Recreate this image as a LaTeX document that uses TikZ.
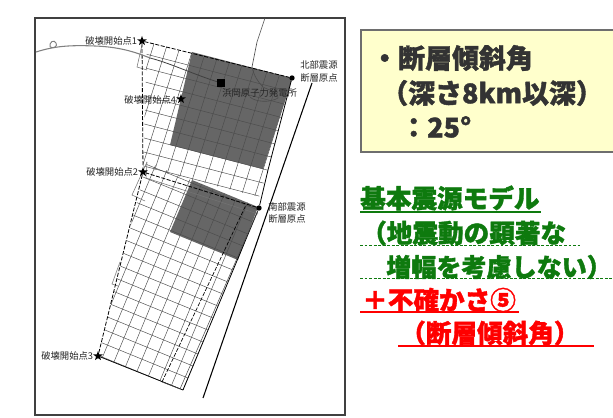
\documentclass[tikz,border=0pt]{standalone}
\usepackage{fontspec}
\setmainfont{Noto Sans CJK JP}[BoldFeatures={FakeBold=1.4}]
\usetikzlibrary{shapes.geometric}
\definecolor{faultgray}{HTML}{666666}
\definecolor{boxfill}{HTML}{FFFFCC}
\definecolor{boxline}{HTML}{6E6E6E}
\definecolor{darktext}{HTML}{333333}
\definecolor{mygreen}{HTML}{0E7A0E}
\definecolor{myred}{HTML}{FF0000}
\tikzset{
  x=0.75pt,y=-0.75pt,
  small/.style={inner sep=0pt,font=\fontsize{7}{8}\selectfont,text=black!85},
  starmark/.style={star,star points=5,star point ratio=2.4,fill=black,draw=none,inner sep=0pt,minimum size=7.5pt},
  dotmark/.style={circle,fill=black,inner sep=0pt,minimum size=4pt},
  gridline/.style={line width=0.35pt,black!70},
  outline/.style={line width=0.4pt,black!55},
  dashline/.style={line width=0.6pt,black,dash pattern=on 3pt off 1.2pt},
  bigbold/.style={anchor=west,inner sep=0pt,font=\fontsize{20.2}{24}\selectfont\bfseries,text=darktext},
  greenbold/.style={anchor=west,inner sep=0pt,font=\fontsize{19.2}{24}\selectfont\bfseries,text=mygreen},
  redbold/.style={anchor=west,inner sep=0pt,font=\fontsize{19.2}{24}\selectfont\bfseries,text=myred}
}
\begin{document}
\begin{tikzpicture}
\useasboundingbox (0,0) rectangle (613,417);
\fill[white] (0,0) rectangle (613,417);
% frame
\draw[line width=1.1pt,black!75] (35,18) rectangle (345,415);
% shaded
\fill[faultgray] (192,52) -- (292,78) -- (263,169) -- (170,145) -- cycle;
\fill[faultgray] (192,180) -- (258,207) -- (238,260) -- (170,232) -- cycle;
% north grid
\begin{scope}
\clip (147,42) -- (292,78) -- (268,170) -- (259,197) -- (143,167) -- cycle;
\foreach \i in {0,...,14}{\draw[gridline] (292-12.5*\i,78-3.25*\i) ++(12.3,-39) -- ++(-57.4,182);}
\foreach \j in {0,...,10}{\draw[gridline] (292-4.1*\j,78+13*\j) ++(25,6.5) -- ++(-200,-52);}
\end{scope}
% south grid
\begin{scope}
\clip (147,162) -- (258,207) -- (183,390) -- (98,356) -- cycle;
\foreach \i in {0,...,14}{\draw[gridline] (183-11.5*\i,390-4.7*\i) ++(-10,24) -- ++(100,-240);}
\foreach \j in {0,...,19}{\draw[gridline] (183+5*\j,390-12*\j) ++(23,9.4) -- ++(-184,-75.2);}
\end{scope}
% side outlines
\draw[outline] (142,45) -- (137,67) -- (147,70);
\draw[outline] (147,162) -- (132,195) -- (145,201);
\draw[outline] (120,262) -- (112,284) -- (118,286);
\draw[outline] (147,162) -- (146,178) -- (258,214);
% named points
\node[starmark] (s1) at (142,41) {};
\node[starmark] (s2) at (143,172) {};
\node[starmark] (s3) at (98,356) {};
\node[starmark] (s4) at (181,99) {};
\node[dotmark] (nO) at (292,78) {};
\node[dotmark] (sO) at (259,208) {};
\coordinate (br) at (183,390);
\coordinate (bri) at (180,389);
\coordinate (ntop) at (312,83);
\coordinate (nbot) at (203,398);
\coordinate (mb) at (162,382);
\coordinate (mt) at (246,205);
\coordinate (nbr) at (268,170);
% fault lines
\draw[dashline] (s1) -- (nO);
\draw[dashline] (s1) -- (s2);
\draw[dashline] (s2) -- (sO);
\draw[dashline] (s2) -- (s3);
\draw[line width=0.55pt,black] (s3) -- (br);
\draw[line width=0.5pt,black,dash pattern=on 3pt off 1.2pt] (mb) -- (mt);
\draw[line width=0.6pt,black] (nO) -- (nbr) -- (sO) -- (br);
\draw[line width=0.4pt,black!70] (sO) -- (bri) -- (mb);
\draw[line width=0.8pt,black] (ntop) -- (nbot);
% coast and plant
\draw[line width=0.8pt,black!50] (36,52) .. controls (55,46) and (70,45) .. (95,46) .. controls (120,47) and (135,52) .. (150,58);
\draw[line width=0.7pt,black!50] (50,47) .. controls (49,42) and (54,39) .. (56,43) .. controls (58,46) and (54,49) .. (50,47);
\draw[line width=0.6pt,black!75] (150,58) .. controls (170,63) and (195,75) .. (221,83);
\draw[line width=0.45pt,black!70] (265,18) -- (257,42) -- (252,67) .. controls (254,76) and (258,82) .. (263,87) .. controls (268,90) and (280,92) .. (278,98) .. controls (270,103) and (255,102) .. (250,97);
\node[fill=black,inner sep=0pt,minimum size=6pt] (plant) at (221,83) {};
% small labels
\node[small,anchor=west] (l1) at (85,41) {破壊開始点1};
\node[small,anchor=west] (l4) at (124,100) {破壊開始点4};
\node[small,anchor=west] (l2) at (86,172) {破壊開始点2};
\node[small,anchor=west] (l3) at (41,356) {破壊開始点3};
\node[small,anchor=west] (np) at (222,93) {浜岡原子力発電所};
\node[small,anchor=west] (na) at (300,65) {北部震源};
\node[small,anchor=west] (nb) at (300,78) {断層原点};
\node[small,anchor=west] (sa) at (268,207) {南部震源};
\node[small,anchor=west] (sb) at (268,219) {断層原点};
% yellow box
\draw[boxline,fill=boxfill,line width=1pt] (361,30) -- (640,30) -- (640,152) -- (361,152) -- cycle;
\node[bigbold] (t1) at (371,58) {・断層傾斜角};
\node[bigbold] (t2) at (381,93) {（深さ8km以深）};
\node[bigbold] (t3) at (400,127) {：25°};
% green/red text
\node[greenbold] (g1) at (360,198) {基本震源モデル};
\node[greenbold] (g2) at (361,233) {（地震動の顕著な};
\node[greenbold,font=\fontsize{18.8}{24}\selectfont\bfseries] (g3) at (386,267) {増幅を考慮しない）};
\node[redbold] (r1) at (362,300) {＋不確かさ⑤};
\node[redbold] (r2) at (400,333) {（断層傾斜角）};
\coordinate (u1a) at (360,212); \coordinate (u1b) at (541,212);
\coordinate (u2a) at (360,245); \coordinate (u2b) at (580,245);
\coordinate (u3a) at (360,278); \coordinate (u3b) at (613,278);
\coordinate (u4a) at (360,312); \coordinate (u4b) at (519,312);
\coordinate (u5a) at (398,346); \coordinate (u5b) at (594,346);
\draw[mygreen,line width=0.8pt] (u1a) -- (u1b);
\draw[mygreen,line width=0.7pt,dash pattern=on 2.2pt off 1.2pt] (u2a) -- (u2b);
\draw[mygreen,line width=0.7pt,dash pattern=on 2.2pt off 1.2pt] (u3a) -- (u3b);
\draw[myred,line width=0.8pt] (u4a) -- (u4b);
\draw[myred,line width=0.8pt] (u5a) -- (u5b);
\end{tikzpicture}
\end{document}
